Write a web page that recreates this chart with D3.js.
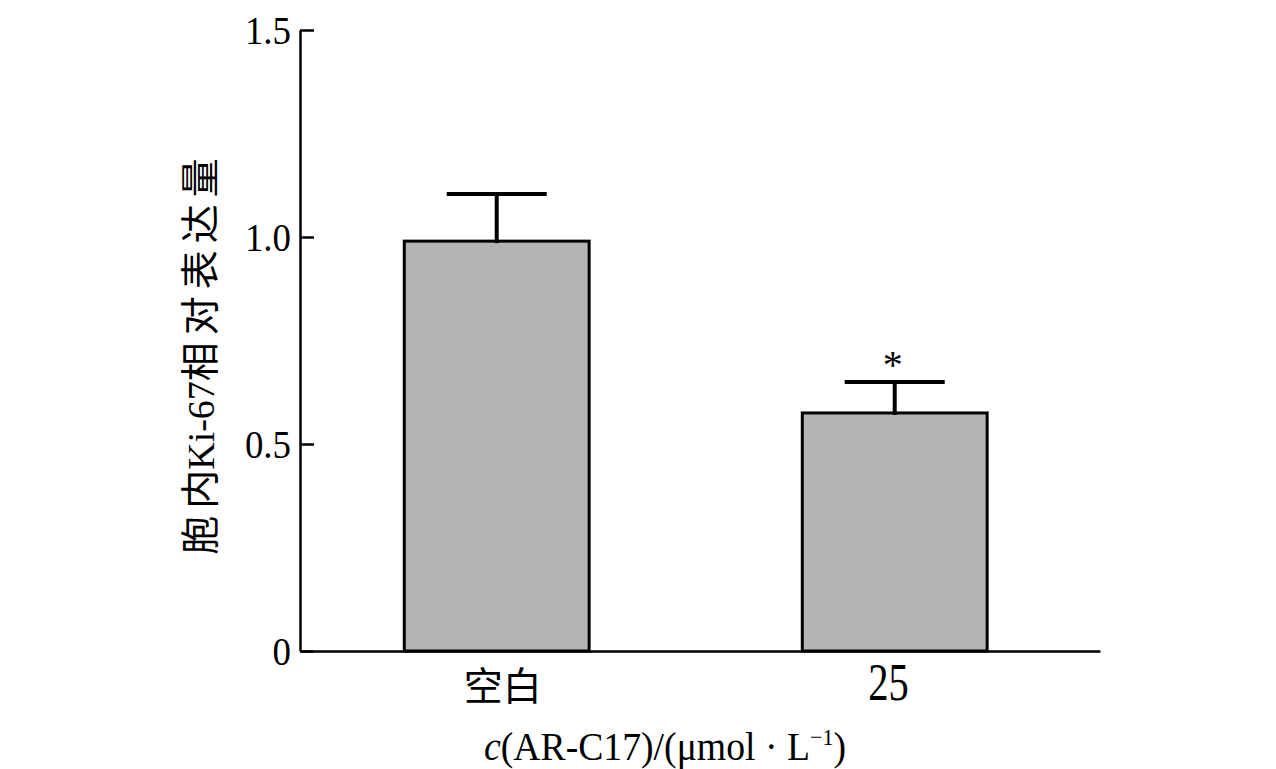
<!DOCTYPE html>
<html>
<head>
<meta charset="utf-8">
<script src="https://cdn.jsdelivr.net/npm/d3@7"></script>
<style>
  html, body { margin: 0; padding: 0; background: #fff; }
  svg { display: block; }
</style>
</head>
<body>
<div id="chart"></div>
<script>
// 数据
var groups = ["空白", "25"];
var means = [0.99, 0.575];
var errors = [0.114, 0.075];
var marks = ["", "*"];
var yTicks = [0, 0.5, 1.0, 1.5];
var yTickLabels = ["0", "0.5", "1.0", "1.5"];

var W = 1276, H = 769;
var serif = "'Liberation Serif', 'Times New Roman', serif";
var cjk = "'Noto Sans CJK SC', sans-serif";

var svg = d3.select("#chart").append("svg")
  .attr("width", W).attr("height", H)
  .attr("viewBox", "0 0 " + W + " " + H);

var x = d3.scaleBand().domain(groups).range([300, 1100])
  .paddingInner(0.528).paddingOuter(0.269).align(0.48);
var y = d3.scaleLinear().domain([0, 1.5]).range([651, 30]);

// 柱子
svg.selectAll("rect.bar").data(groups).enter().append("rect")
  .attr("class", "bar")
  .attr("x", function(d) { return x(d) + 1.5; })
  .attr("width", x.bandwidth() - 3)
  .attr("y", function(d, i) { return y(means[i]); })
  .attr("height", function(d, i) { return y(0) - y(means[i]); })
  .style("fill", "#b4b4b4").style("stroke", "#000").style("stroke-width", 3);

// 误差线
var cap = 50;
var eb = svg.selectAll("g.err").data(groups).enter().append("g").attr("class", "err")
  .style("stroke", "#000").style("stroke-width", 4);
eb.append("line")
  .attr("x1", function(d) { return x(d) + x.bandwidth() / 2; })
  .attr("x2", function(d) { return x(d) + x.bandwidth() / 2; })
  .attr("y1", function(d, i) { return y(means[i]) + 2; })
  .attr("y2", function(d, i) { return y(means[i] + errors[i]); });
eb.append("line")
  .attr("x1", function(d) { return x(d) + x.bandwidth() / 2 - cap; })
  .attr("x2", function(d) { return x(d) + x.bandwidth() / 2 + cap; })
  .attr("y1", function(d, i) { return y(means[i] + errors[i]); })
  .attr("y2", function(d, i) { return y(means[i] + errors[i]); });

// 显著性标记
svg.selectAll("text.mark").data(groups).enter().append("text")
  .attr("class", "mark")
  .attr("x", function(d) { return x(d) + x.bandwidth() / 2 - 2; })
  .attr("y", function(d, i) { return y(means[i] + errors[i]) - 4; })
  .attr("text-anchor", "middle")
  .style("font-family", serif).style("font-size", "40px")
  .text(function(d, i) { return marks[i]; });

// y轴
var yAxis = svg.append("g").attr("transform", "translate(300,0)")
  .call(d3.axisLeft(y).tickValues(yTicks)
    .tickFormat(function(d, i) { return yTickLabels[i]; })
    .tickSizeInner(-14).tickSizeOuter(0).tickPadding(10));
yAxis.select(".domain").style("stroke", "#000").style("stroke-width", 2.5);
yAxis.selectAll(".tick line").style("stroke", "#000").style("stroke-width", 2.5);
yAxis.selectAll(".tick text")
  .style("font-family", serif).style("font-size", "41px").style("fill", "#000")
  .attr("transform", "scale(0.9,1)");

// x轴
var xAxis = svg.append("g").attr("transform", "translate(0,651)")
  .call(d3.axisBottom(x).tickSize(0).tickSizeOuter(0));
xAxis.select(".domain").style("stroke", "#000").style("stroke-width", 2.5);
xAxis.selectAll(".tick text")
  .attr("y", 49).attr("dy", 0).style("fill", "#000")
  .each(function(d) {
    var t = d3.select(this);
    if (/[\u4e00-\u9fff]/.test(d)) {
      t.style("font-family", cjk).style("font-size", "39px").attr("x", 6);
    } else {
      t.style("font-family", serif).style("font-size", "52px")
        .attr("x", -8).attr("transform", "scale(0.78,1)");
    }
  });

// x轴标题
var xt = svg.append("text")
  .attr("transform", "translate(665,760) scale(0.92,1)")
  .attr("text-anchor", "middle")
  .style("font-family", serif).style("font-size", "41px").style("fill", "#000");
xt.append("tspan").style("font-style", "italic").text("c");
xt.append("tspan").text("(AR-C17)/(μmol · L");
xt.append("tspan").attr("dy", -15).style("font-size", "24px").text("−1");
xt.append("tspan").attr("dy", 15).text(")");

// y轴标题
var yt = svg.append("text")
  .attr("transform", "translate(214,353) rotate(-90)")
  .attr("text-anchor", "middle")
  .style("fill", "#000");
yt.append("tspan").style("font-family", cjk).style("font-size", "39px")
  .style("letter-spacing", "7px").text("胞");
yt.append("tspan").style("font-family", cjk).style("font-size", "39px").text("内");
yt.append("tspan").style("font-family", serif).style("font-size", "38px").text("Ki-67");
yt.append("tspan").style("font-family", cjk).style("font-size", "39px")
  .style("letter-spacing", "7px").text("相对表达量");
</script>
</body>
</html>
